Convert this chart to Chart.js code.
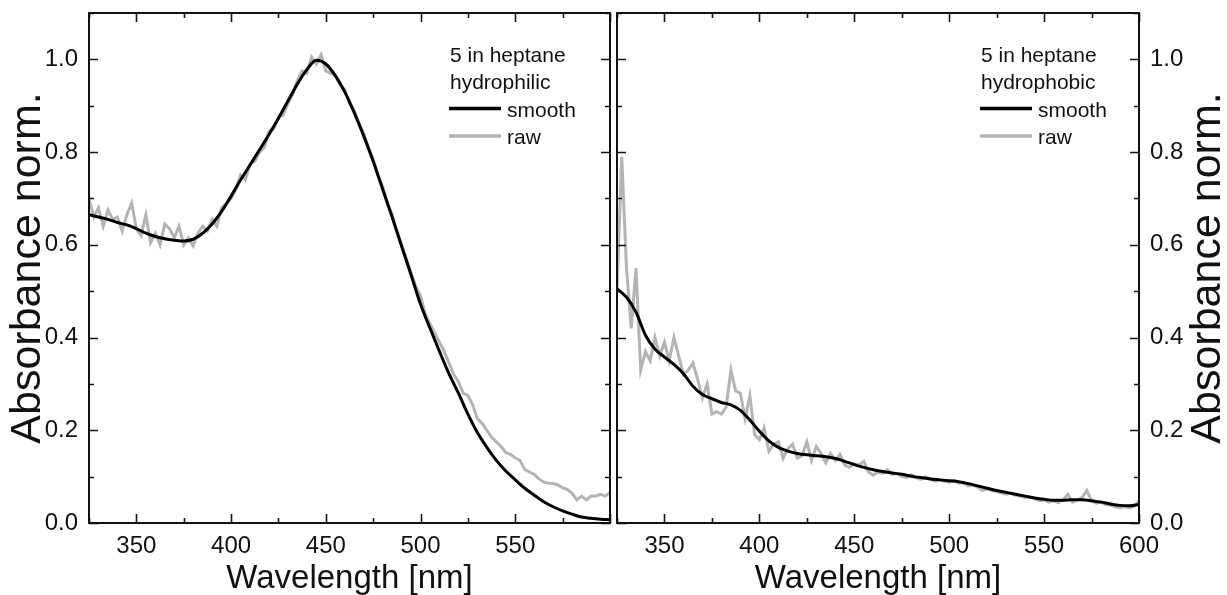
<!DOCTYPE html>
<html>
<head>
<meta charset="utf-8">
<title>Absorbance spectra</title>
<script src="https://cdn.jsdelivr.net/npm/chart.js@4.4.1/dist/chart.umd.min.js"></script>
<style>
    html, body { margin: 0; padding: 0; background: #ffffff; }
    #wrap { position: relative; width: 1227px; height: 595px; }
    canvas { position: absolute; top: 0; }
    #panel-left { left: 0; }
    #panel-right { left: 614px; }
</style>
</head>
<body>
<div id="wrap">
    <canvas id="panel-left" width="614" height="595"></canvas>
    <canvas id="panel-right" width="613" height="595"></canvas>
</div>
<script>
// Wavelength grid of the raw spectra (nm)
const rawWl = [
    325, 327.5, 330, 332.5, 335, 337.5, 340, 342.5, 345, 347.5,
    350, 352.5, 355, 357.5, 360, 362.5, 365, 367.5, 370, 372.5,
    375, 377.5, 380, 382.5, 385, 387.5, 390, 392.5, 395, 397.5,
    400, 402.5, 405, 407.5, 410, 412.5, 415, 417.5, 420, 422.5,
    425, 427.5, 430, 432.5, 435, 437.5, 440, 442.5, 445, 447.5,
    450, 452.5, 455, 457.5, 460, 462.5, 465, 467.5, 470, 472.5,
    475, 477.5, 480, 482.5, 485, 487.5, 490, 492.5, 495, 497.5,
    500, 502.5, 505, 507.5, 510, 512.5, 515, 517.5, 520, 522.5,
    525, 527.5, 530, 532.5, 535, 537.5, 540, 542.5, 545, 547.5,
    550, 552.5, 555, 557.5, 560, 562.5, 565, 567.5, 570, 572.5,
    575, 577.5, 580, 582.5, 585, 587.5, 590, 592.5, 595, 597.5,
    600
];

// Wavelength grid of the smoothed spectra (nm)
const smoothWl = [
    325, 330, 335, 340, 345,
    350, 355, 360, 365, 370,
    375, 380, 385, 390, 395,
    400, 405, 410, 415, 420,
    425, 430, 435, 440, 445,
    450, 455, 460, 465, 470,
    475, 480, 485, 490, 495,
    500, 505, 510, 515, 520,
    525, 530, 535, 540, 545,
    550, 555, 560, 565, 570,
    575, 580, 585, 590, 595,
    600
];

// Hydrophilic - raw
const philicRaw = [
    0.70, 0.66, 0.68, 0.64, 0.675, 0.655, 0.66, 0.63, 0.665, 0.69,
    0.635, 0.62, 0.665, 0.605, 0.625, 0.60, 0.645, 0.635, 0.615, 0.64,
    0.60, 0.615, 0.598, 0.625, 0.64, 0.63, 0.655, 0.64, 0.68, 0.69,
    0.70, 0.72, 0.75, 0.74, 0.775, 0.78, 0.80, 0.81, 0.845, 0.85,
    0.875, 0.88, 0.905, 0.925, 0.955, 0.975, 0.97, 1.005, 0.99, 1.01,
    0.975, 0.97, 0.965, 0.945, 0.935, 0.905, 0.89, 0.86, 0.84, 0.81,
    0.785, 0.75, 0.725, 0.69, 0.665, 0.63, 0.60, 0.57, 0.54, 0.51,
    0.49, 0.45, 0.43, 0.41, 0.39, 0.37, 0.345, 0.32, 0.305, 0.28,
    0.275, 0.255, 0.225, 0.215, 0.20, 0.185, 0.175, 0.165, 0.152, 0.148,
    0.14, 0.135, 0.115, 0.11, 0.105, 0.095, 0.088, 0.086, 0.085, 0.082,
    0.076, 0.072, 0.064, 0.05, 0.058, 0.05, 0.058, 0.058, 0.062, 0.058,
    0.066
];

// Hydrophilic - smooth
const philicSmooth = [
    0.665, 0.66, 0.655, 0.648, 0.643,
    0.635, 0.625, 0.618, 0.613, 0.61,
    0.608, 0.612, 0.625, 0.645, 0.672,
    0.705, 0.74, 0.772, 0.805, 0.838,
    0.873, 0.91, 0.947, 0.978, 0.998,
    0.99, 0.965, 0.93, 0.885, 0.835,
    0.78, 0.72, 0.66, 0.597, 0.535,
    0.472, 0.42, 0.37, 0.322, 0.28,
    0.235, 0.195, 0.163, 0.135, 0.112,
    0.093, 0.075, 0.06, 0.046, 0.035,
    0.026, 0.019, 0.013, 0.01, 0.008,
    0.007
];

// Hydrophobic - raw
const phobicRaw = [
    0.50, 0.79, 0.55, 0.42, 0.55, 0.33, 0.37, 0.35, 0.40, 0.36,
    0.39, 0.35, 0.40, 0.36, 0.32, 0.33, 0.345, 0.31, 0.27, 0.30,
    0.235, 0.24, 0.235, 0.25, 0.33, 0.285, 0.28, 0.225, 0.275, 0.19,
    0.18, 0.205, 0.155, 0.17, 0.175, 0.14, 0.16, 0.17, 0.14, 0.145,
    0.175, 0.135, 0.165, 0.15, 0.13, 0.15, 0.135, 0.148, 0.125, 0.12,
    0.128, 0.125, 0.133, 0.11, 0.103, 0.11, 0.107, 0.115, 0.105, 0.107,
    0.10, 0.098, 0.104, 0.098, 0.094, 0.10, 0.095, 0.09, 0.093, 0.09,
    0.088, 0.092, 0.086, 0.088, 0.08, 0.082, 0.078, 0.07, 0.074, 0.07,
    0.068, 0.065, 0.062, 0.064, 0.06, 0.058, 0.055, 0.056, 0.052, 0.048,
    0.05, 0.045, 0.048, 0.044, 0.05, 0.062, 0.045, 0.05, 0.055, 0.07,
    0.048, 0.043, 0.045, 0.04, 0.038, 0.035, 0.033, 0.035, 0.033, 0.036,
    0.048
];

// Hydrophobic - smooth
const phobicSmooth = [
    0.505, 0.487, 0.455, 0.405, 0.375,
    0.358, 0.342, 0.322, 0.295, 0.277,
    0.268, 0.26, 0.255, 0.243, 0.222,
    0.198, 0.177, 0.163, 0.155, 0.15,
    0.147, 0.145, 0.143, 0.139, 0.133,
    0.126, 0.12, 0.115, 0.111, 0.108,
    0.105, 0.101, 0.098, 0.095, 0.093,
    0.091, 0.089, 0.085, 0.08, 0.075,
    0.07, 0.066, 0.062, 0.058, 0.054,
    0.051, 0.049, 0.049, 0.05, 0.05,
    0.048, 0.045, 0.041, 0.038, 0.037,
    0.04
];

// Axis texts and legend headers
const xTitle = 'Wavelength [nm]';
const yTitle = 'Absorbance norm.';
const legendHeaderLeft = ['5 in heptane', 'hydrophilic'];
const legendHeaderRight = ['5 in heptane', 'hydrophobic'];

const FONT = "'Liberation Sans', Arial, Helvetica, sans-serif";
const INK = '#111111';
const BLACK = '#000000';
const GRAY = '#b4b4b4';

function toPoints(xs, ys) {
    return xs.map((x, i) => ({ x: x, y: ys[i] }));
}

// Frame around the plot + inward ticks on all four sides
const frameTicks = {
    id: 'frameTicks',
    afterDatasetsDraw(chart) {
        const { ctx, chartArea: a, scales: { x, y } } = chart;
        ctx.save();
        ctx.strokeStyle = INK;
        ctx.lineWidth = 1.6;
        ctx.beginPath();
        x.ticks.forEach(t => {
            const px = Math.round(x.getPixelForValue(t.value)) + 0.5;
            const len = t.value % 50 === 0 ? 9 : 5;
            ctx.moveTo(px, a.bottom);
            ctx.lineTo(px, a.bottom - len);
            ctx.moveTo(px, a.top);
            ctx.lineTo(px, a.top + len);
        });
        y.ticks.forEach(t => {
            const py = Math.round(y.getPixelForValue(t.value)) + 0.5;
            const len = Math.round(t.value * 10) % 2 === 0 ? 9 : 5;
            ctx.moveTo(a.left, py);
            ctx.lineTo(a.left + len, py);
            ctx.moveTo(a.right, py);
            ctx.lineTo(a.right - len, py);
        });
        ctx.stroke();
        ctx.lineWidth = 2;
        ctx.strokeRect(a.left, a.top, a.right - a.left, a.bottom - a.top);
        ctx.restore();
    }
};

// Legend inside the plot and rotated y title
const panelText = {
    id: 'panelText',
    afterDraw(chart, args, opts) {
        const ctx = chart.ctx;
        ctx.save();
        ctx.fillStyle = INK;
        ctx.textAlign = 'left';
        ctx.textBaseline = 'alphabetic';
        ctx.font = '21px ' + FONT;
        opts.header.forEach((line, i) => {
            ctx.fillText(line, opts.x + 1, opts.top + i * 27);
        });
        // legend entries, in dataset order (smooth, raw)
        chart.data.datasets.forEach((ds, i) => {
            const base = opts.top + (opts.header.length + i) * 27.5;
            const ly = base - 8;
            ctx.strokeStyle = ds.borderColor;
            ctx.lineWidth = ds.borderWidth + 0.5;
            ctx.beginPath();
            ctx.moveTo(opts.x, ly);
            ctx.lineTo(opts.x + 52, ly);
            ctx.stroke();
            ctx.fillText(ds.label, opts.x + 58, base);
        });
        // y axis title, reading bottom to top
        ctx.font = '43px ' + FONT;
        ctx.textAlign = 'center';
        ctx.textBaseline = 'middle';
        ctx.translate(opts.yTitleX, (chart.chartArea.top + chart.chartArea.bottom) / 2);
        ctx.rotate(-Math.PI / 2);
        ctx.fillText(yTitle, 0, 0);
        ctx.restore();
    }
};

// Remove the extra room Chart.js keeps for the end labels
function noEndPadding(s) {
    s.paddingTop = 0;
    s.paddingBottom = 0;
    s.paddingLeft = 0;
    s.paddingRight = 0;
}

function buildPanel(canvasId, cfg) {
    const ctx = document.getElementById(canvasId).getContext('2d');
    return new Chart(ctx, {
        type: 'line',
        data: {
            datasets: [
                {
                    label: 'smooth',
                    data: toPoints(smoothWl, cfg.smooth),
                    borderColor: BLACK,
                    borderWidth: 3,
                    pointRadius: 0,
                    cubicInterpolationMode: 'monotone',
                    fill: false
                },
                {
                    label: 'raw',
                    data: toPoints(rawWl, cfg.raw),
                    borderColor: GRAY,
                    borderWidth: 3,
                    pointRadius: 0,
                    tension: 0,
                    fill: false
                }
            ]
        },
        options: {
            responsive: false,
            animation: false,
            events: [],
            layout: { padding: cfg.padding },
            plugins: {
                legend: { display: false },
                tooltip: { enabled: false },
                panelText: { header: cfg.header, x: cfg.legendX, top: 61.5, yTitleX: cfg.yTitleX }
            },
            scales: {
                x: {
                    type: 'linear',
                    min: 325,
                    max: 600,
                    grid: { display: false, drawTicks: false },
                    border: { display: false },
                    ticks: {
                        stepSize: 25,
                        autoSkip: false,
                        maxRotation: 0,
                        padding: 9,
                        color: INK,
                        font: { family: FONT, size: 24 },
                        callback: cfg.xLabel
                    },
                    title: {
                        display: true,
                        text: xTitle,
                        color: INK,
                        font: { family: FONT, size: 33, lineHeight: 1 },
                        padding: { top: 0, bottom: 0 }
                    },
                    afterFit: s => { noEndPadding(s); s.height = 72; }
                },
                y: {
                    position: cfg.yPos,
                    min: 0,
                    max: 1.1,
                    grid: { display: false, drawTicks: false },
                    border: { display: false },
                    ticks: {
                        stepSize: 0.1,
                        autoSkip: false,
                        padding: 11,
                        color: INK,
                        font: { family: FONT, size: 24 },
                        callback: v => Math.round(v * 10) % 2 === 0 ? v.toFixed(1) : ''
                    },
                    afterFit: s => { noEndPadding(s); s.width = cfg.yWidth; }
                }
            }
        },
        plugins: [frameTicks, panelText]
    });
}

// Left panel - hydrophilic
buildPanel('panel-left', {
    raw: philicRaw,
    smooth: philicSmooth,
    header: legendHeaderLeft,
    legendX: 449,
    yTitleX: 28,
    yPos: 'left',
    yWidth: 89,
    padding: { top: 13, right: 4, left: 0, bottom: 0 },
    xLabel: v => (v % 50 === 0 && v < 600) ? v : ''
});

// Right panel - hydrophobic
buildPanel('panel-right', {
    raw: phobicRaw,
    smooth: phobicSmooth,
    header: legendHeaderRight,
    legendX: 366,
    yTitleX: 594,
    yPos: 'right',
    yWidth: 88,
    padding: { top: 13, right: 0, left: 3, bottom: 0 },
    xLabel: v => (v % 50 === 0 && v > 325) ? v : ''
});
</script>
</body>
</html>
